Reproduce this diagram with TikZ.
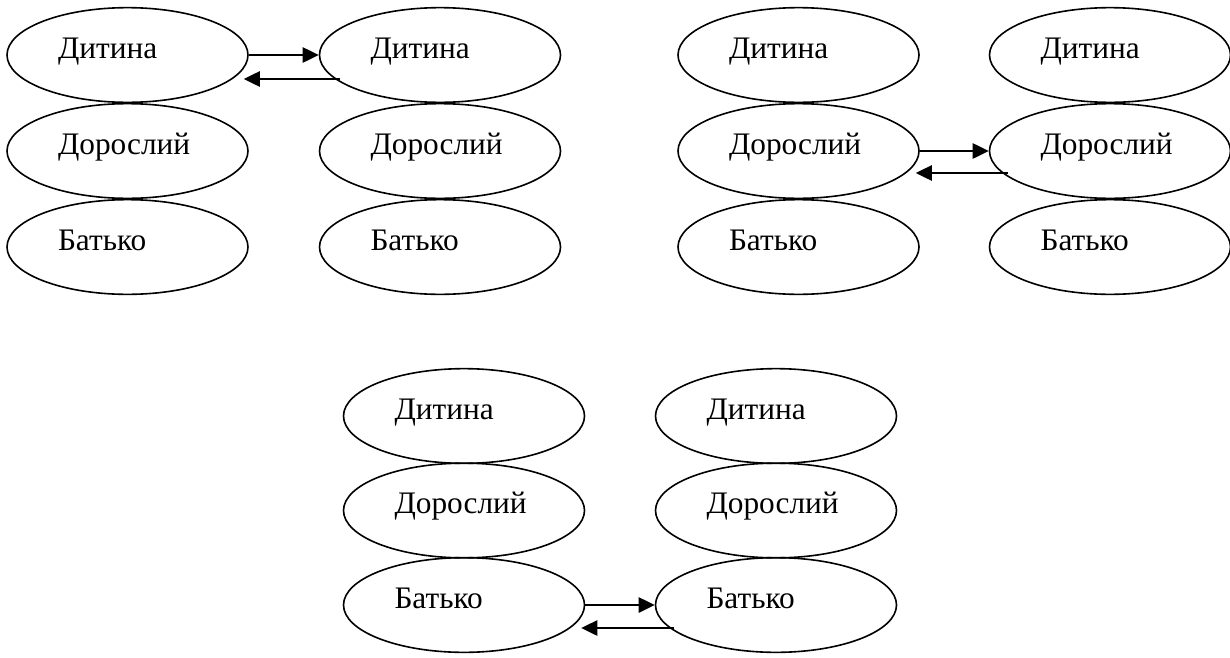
\documentclass[tikz,border=0pt]{standalone}
\usepackage{fontspec}
\setmainfont{Liberation Serif}
\usetikzlibrary{shapes.geometric,arrows.meta,calc}

\tikzset{every picture/.style={line width=1.2pt}}
\tikzset{
  oval/.style={draw, ellipse, inner sep=0pt, minimum width=180.75pt, minimum height=71pt},
  lbl/.style={anchor=base west, inner sep=0pt, font=\fontsize{23.5}{28}\selectfont},
  arr/.style={-{Triangle[length=12pt,width=11.5pt]}, line width=1.2pt}
}

\begin{document}
\begin{tikzpicture}[x=0.75pt,y=0.75pt,yscale=-1,xscale=1]
\useasboundingbox (0,0) rectangle (1230,657);

%Shape: Ellipse, first group
\node[oval] (a1) at (127.5,55) {};
\node[oval] (a2) at (127.5,151) {};
\node[oval] (a3) at (127.5,247) {};
\node[oval] (b1) at (440,55) {};
\node[oval] (b2) at (440,151) {};
\node[oval] (b3) at (440,247) {};
%Shape: Ellipse, second group
\node[oval] (c1) at (798.5,55) {};
\node[oval] (c2) at (798.5,151) {};
\node[oval] (c3) at (798.5,247) {};
\node[oval] (d1) at (1110,55) {};
\node[oval] (d2) at (1110,151) {};
\node[oval] (d3) at (1110,247) {};
%Shape: Ellipse, third group
\node[oval] (e1) at (464,416) {};
\node[oval] (e2) at (464,510.5) {};
\node[oval] (e3) at (464,605) {};
\node[oval] (f1) at (776,416) {};
\node[oval] (f2) at (776,510.5) {};
\node[oval] (f3) at (776,605) {};

% Text Node
\foreach \g in {a,b,c,d,e,f}{
  \node[lbl] (\g t1) at ($(\g1.west)+(51,3)$) {Дитина};
  \node[lbl] (\g t2) at ($(\g2.west)+(51,3)$) {Дорослий};
  \node[lbl] (\g t3) at ($(\g3.west)+(51,3)$) {Батько};
}

%Straight Lines
\draw[arr] (a1.east) -- (b1.west);
\draw[arr] ($(b1.west)+(21,24)$) -- ($(a1.east)+(-5,24)$);
%Straight Lines
\draw[arr] (c2.east) -- (d2.west);
\draw[arr] ($(d2.west)+(19,22)$) -- ($(c2.east)+(-4,22)$);
%Straight Lines
\draw[arr] (e3.east) -- (f3.west);
\draw[arr] ($(f3.west)+(19,23)$) -- ($(e3.east)+(-4,23)$);

\end{tikzpicture}
\end{document}
